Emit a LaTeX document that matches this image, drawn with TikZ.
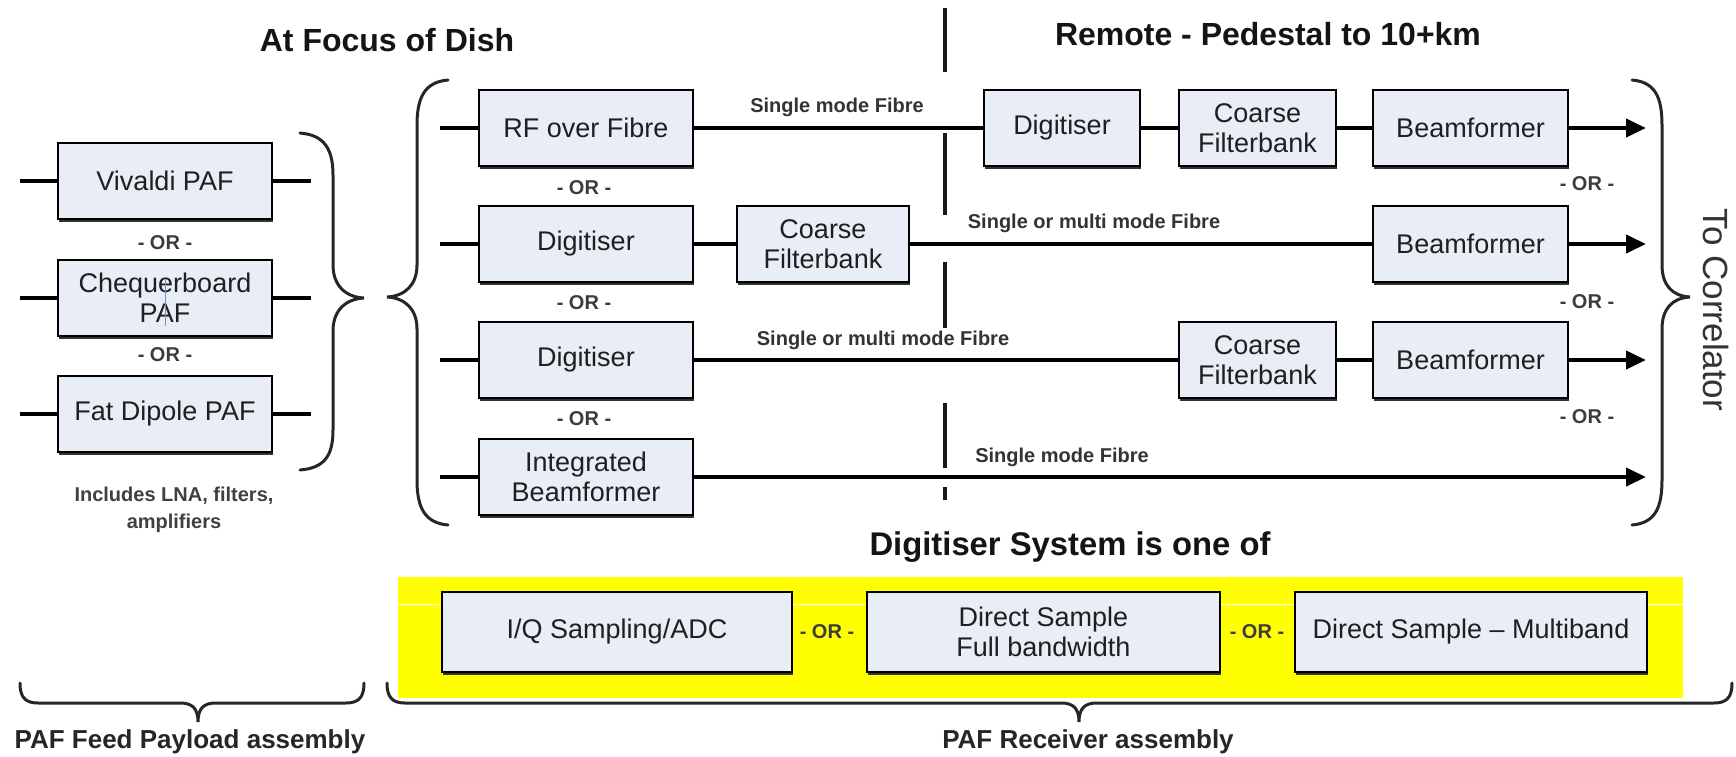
\documentclass[tikz,border=0pt]{standalone}
\usepackage{fontspec}
\setmainfont{Liberation Sans}
\usetikzlibrary{arrows.meta,shadows}
\definecolor{boxfill}{HTML}{E8EDF6}
\definecolor{hilite}{HTML}{FFFF00}
\definecolor{labelgray}{HTML}{333333}
\definecolor{orgray}{HTML}{3C3C3C}
\definecolor{cursorblue}{HTML}{6F8FD0}

\begin{document}
\begin{tikzpicture}[x=0.5pt,y=-0.5pt,
  blk/.style={draw=black, line width=1.1pt, fill=boxfill, align=center, inner sep=0pt,
    minimum height=38pt, text=black!88,
    font=\fontsize{13.5pt}{15pt}\selectfont,
    drop shadow={shadow xshift=0.6pt, shadow yshift=-1.7pt, fill=black!80, opacity=1}},
  wideblk/.style={blk, minimum width=107pt},
  lowblk/.style={blk, minimum height=40pt},
  wire/.style={line width=2pt, black},
  feed/.style={wire, -{Triangle[length=10pt,width=9pt]}},
  orlabel/.style={font=\bfseries\fontsize{10pt}{12pt}\selectfont, text=orgray, inner sep=0pt},
  fibrelabel/.style={font=\bfseries\fontsize{10pt}{12pt}\selectfont, text=labelgray, inner sep=0pt},
  headline/.style={font=\bfseries\fontsize{16pt}{19pt}\selectfont, text=black!92, inner sep=0pt},
  footline/.style={font=\bfseries\fontsize{13pt}{16pt}\selectfont, text=black!85, inner sep=0pt},
  brace/.style={line width=1.5pt, black!85, line cap=round},
  divider/.style={line width=2pt, black!90}
]
\useasboundingbox (0,0) rectangle (1736,756);

% ---------- headings ----------
\node[headline] (hfocus) at (387,40) {At Focus of Dish};
\node[headline] (hremote) at (1268,34) {Remote - Pedestal to 10+km};

% ---------- divider between dish and remote ----------
\draw[divider] (945,8) -- (945,72);
\draw[divider] (945,133) -- (945,215);
\draw[divider] (945,262) -- (945,328);
\draw[divider] (945,403) -- (945,468);
\draw[divider] (945,487) -- (945,500);

% ---------- PAF feeds ----------
\node[wideblk] (viv) at (165,181) {Vivaldi PAF};
\node[wideblk] (cheq) at (165,298) {Chequerboard\\PAF};
\node[wideblk] (fat) at (165,414) {Fat Dipole PAF};
\draw[cursorblue, line width=0.5pt] (165,279) -- (165,326);

\node[orlabel] (orA) at (165,243) {- OR -};
\node[orlabel] (orB) at (165,355) {- OR -};

\coordinate (vivL) at (20,181);  \coordinate (vivR) at (311,181);
\coordinate (cheqL) at (20,298); \coordinate (cheqR) at (311,298);
\coordinate (fatL) at (20,414);  \coordinate (fatR) at (311,414);
\draw[wire] (vivL) -- (viv);   \draw[wire] (viv) -- (vivR);
\draw[wire] (cheqL) -- (cheq); \draw[wire] (cheq) -- (cheqR);
\draw[wire] (fatL) -- (fat);   \draw[wire] (fat) -- (fatR);

\node[font=\bfseries\fontsize{10pt}{13.5pt}\selectfont, text=black!75, align=center, inner sep=0pt]
  (lna) at (174,510) {Includes LNA, filters,\\amplifiers};

% braces of the feed column and of the chains
\draw[brace] (300,133) .. controls (325,135) and (333,150) .. (333,175) -- (333,265)
  .. controls (333,285) and (345,297) .. (364,298)
  .. controls (345,299) and (333,311) .. (333,331) -- (333,430)
  .. controls (333,455) and (325,468) .. (300,470);
\draw[brace] (448,80) .. controls (425,82) and (417,97) .. (417,125) -- (417,265)
  .. controls (417,285) and (405,296) .. (387,297)
  .. controls (405,298) and (417,309) .. (417,329) -- (417,480)
  .. controls (417,508) and (425,523) .. (448,525);
\draw[brace] (1632,80) .. controls (1655,82) and (1662,97) .. (1662,125) -- (1662,265)
  .. controls (1662,285) and (1672,296) .. (1690,297)
  .. controls (1672,298) and (1662,309) .. (1662,329) -- (1662,480)
  .. controls (1662,508) and (1655,523) .. (1632,525);

\node[rotate=-90, font=\fontsize{17.5pt}{20pt}\selectfont, text=black!80, inner sep=0pt]
  (tocorr) at (1716,310) {To Correlator};

% ---------- signal chains ----------
\node[wideblk] (rf) at (586,128) {RF over Fibre};
\node[wideblk] (dig2) at (586,244) {Digitiser};
\node[wideblk] (dig3) at (586,360) {Digitiser};
\node[wideblk] (ibf) at (586,477) {Integrated\\Beamformer};

\node[blk, minimum width=78pt] (dig1) at (1062,128) {Digitiser};
\node[blk, minimum width=78.5pt] (cf1) at (1257.5,128) {Coarse\\Filterbank};
\node[blk, minimum width=97.5pt] (bf1) at (1470.5,128) {Beamformer};

\node[blk, minimum width=86pt] (cf2) at (823,244) {Coarse\\Filterbank};
\node[blk, minimum width=97.5pt] (bf2) at (1470.5,244) {Beamformer};

\node[blk, minimum width=78.5pt] (cf3) at (1257.5,360) {Coarse\\Filterbank};
\node[blk, minimum width=97.5pt] (bf3) at (1470.5,360) {Beamformer};

\node[orlabel] (orC) at (584,188) {- OR -};
\node[orlabel] (orD) at (584,303) {- OR -};
\node[orlabel] (orE) at (584,419) {- OR -};
\node[orlabel] (orF) at (1587,184) {- OR -};
\node[orlabel] (orG) at (1587,302) {- OR -};
\node[orlabel] (orH) at (1587,417) {- OR -};

\node[fibrelabel] (fib1) at (837,107) {Single mode Fibre};
\node[fibrelabel] (fib2) at (1094,223) {Single or multi mode Fibre};
\node[fibrelabel] (fib3) at (883,340) {Single or multi mode Fibre};
\node[fibrelabel] (fib4) at (1062,457) {Single mode Fibre};

\coordinate (in1) at (440,128); \coordinate (out1) at (1646,128);
\coordinate (in2) at (440,244); \coordinate (out2) at (1646,244);
\coordinate (in3) at (440,360); \coordinate (out3) at (1646,360);
\coordinate (in4) at (440,477); \coordinate (out4) at (1646,477);

\draw[wire] (in1) -- (rf);
\draw[wire] (rf) -- (dig1);
\draw[wire] (dig1) -- (cf1);
\draw[wire] (cf1) -- (bf1);
\draw[feed] (bf1) -- (out1);

\draw[wire] (in2) -- (dig2);
\draw[wire] (dig2) -- (cf2);
\draw[wire] (cf2) -- (bf2);
\draw[feed] (bf2) -- (out2);

\draw[wire] (in3) -- (dig3);
\draw[wire] (dig3) -- (cf3);
\draw[wire] (cf3) -- (bf3);
\draw[feed] (bf3) -- (out3);

\draw[wire] (in4) -- (ibf);
\draw[feed] (ibf) -- (out4);

% ---------- digitiser options ----------
\node[headline, font=\bfseries\fontsize{16.4pt}{19pt}\selectfont] (hdig) at (1070,547) {Digitiser System is one of};
\fill[hilite] (398,577) rectangle (1683,698);
\draw[white, line width=0.5pt] (398,604) -- (1683,604);

\node[lowblk, minimum width=175pt] (iq) at (617,632) {I/Q Sampling/ADC};
\node[lowblk, minimum width=176.5pt] (dsf) at (1043.5,632) {Direct Sample\\Full bandwidth};
\node[lowblk, minimum width=176pt] (dsm) at (1471,632) {Direct Sample -- Multiband};
\node[orlabel] (orI) at (827,632) {- OR -};
\node[orlabel] (orJ) at (1257,632) {- OR -};

% ---------- assembly braces ----------
\draw[brace] (20,683) .. controls (20,697) and (25,703) .. (38,703) -- (180,703)
  .. controls (192,703) and (198,708) .. (198,722)
  .. controls (198,708) and (204,703) .. (216,703) -- (346,703)
  .. controls (359,703) and (364,697) .. (364,683);
\draw[brace] (387,683) .. controls (387,697) and (392,703) .. (405,703) -- (1061,703)
  .. controls (1073,703) and (1079,708) .. (1079,722)
  .. controls (1079,708) and (1085,703) .. (1097,703) -- (1714,703)
  .. controls (1727,703) and (1732,697) .. (1732,683);

\node[footline] (feedasm) at (190,742) {PAF Feed Payload assembly};
\node[footline] (rxasm) at (1088,742) {PAF Receiver assembly};
\end{tikzpicture}
\end{document}
